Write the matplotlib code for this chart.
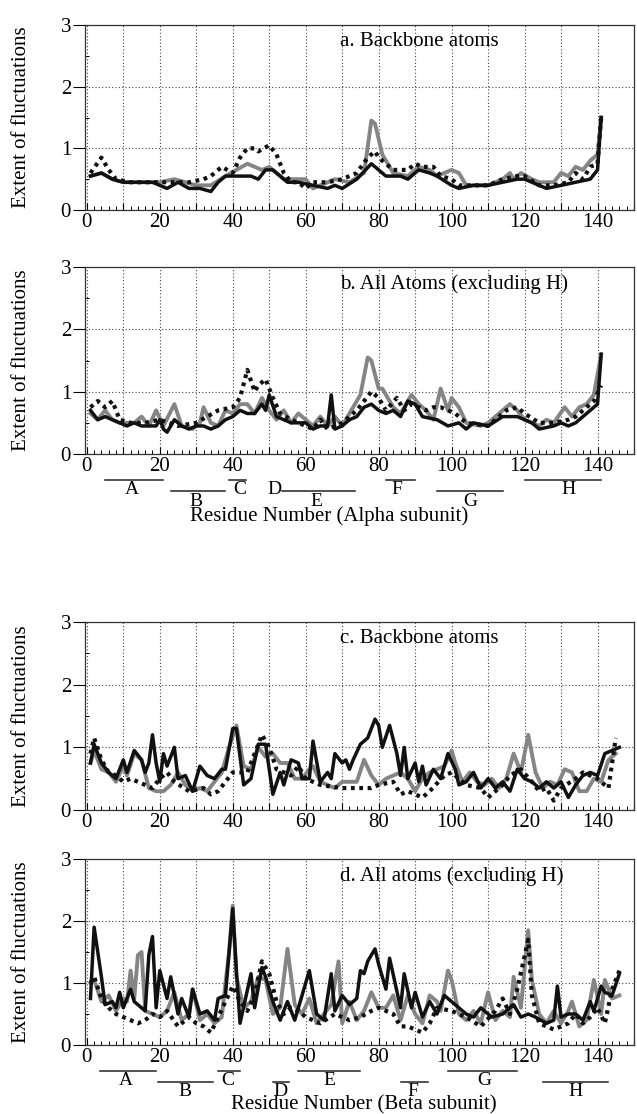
import matplotlib
matplotlib.use("Agg")
import matplotlib.pyplot as plt
from matplotlib.ticker import MultipleLocator, FuncFormatter

plt.rcParams['font.family'] = ['Liberation Serif', 'DejaVu Serif']

# ---- data (residue, fluctuation) ----
# a. alpha, backbone
a_blk_x = [1, 4, 7, 10, 14, 18, 20, 22, 25, 28, 31, 34, 36, 38, 41, 45, 47, 49, 51, 55, 58, 62, 66, 68, 70, 74, 78, 80, 82, 86, 88, 91, 94, 96, 100, 102, 106, 110, 114, 118, 120, 124, 126, 130, 134, 138, 140, 141]
a_blk_y = [0.55, 0.6, 0.5, 0.45, 0.45, 0.45, 0.4, 0.35, 0.45, 0.35, 0.35, 0.3, 0.45, 0.55, 0.55, 0.55, 0.5, 0.65, 0.65, 0.45, 0.45, 0.4, 0.35, 0.4, 0.35, 0.5, 0.75, 0.65, 0.55, 0.55, 0.5, 0.65, 0.6, 0.55, 0.4, 0.35, 0.4, 0.4, 0.45, 0.5, 0.5, 0.4, 0.35, 0.4, 0.45, 0.5, 0.65, 1.5]
a_gry_x = [1, 4, 7, 10, 15, 20, 24, 27, 30, 34, 38, 41, 44, 46, 48, 50, 54, 60, 62, 66, 68, 72, 76, 78, 79, 81, 84, 88, 91, 94, 96, 100, 102, 104, 110, 114, 116, 117, 119, 122, 124, 128, 130, 132, 134, 136, 138, 140, 141]
a_gry_y = [0.55, 0.6, 0.5, 0.45, 0.45, 0.45, 0.5, 0.45, 0.4, 0.4, 0.55, 0.65, 0.75, 0.7, 0.65, 0.7, 0.5, 0.5, 0.35, 0.45, 0.5, 0.45, 0.6, 1.45, 1.4, 0.9, 0.6, 0.55, 0.7, 0.65, 0.55, 0.65, 0.6, 0.4, 0.4, 0.5, 0.6, 0.5, 0.6, 0.5, 0.45, 0.45, 0.6, 0.55, 0.7, 0.65, 0.8, 0.9, 1.5]
a_dot_x = [1, 4, 6, 8, 12, 18, 24, 28, 32, 34, 37, 40, 42, 44, 46, 47, 50, 52, 54, 56, 58, 60, 62, 66, 70, 74, 77, 79, 80, 84, 88, 90, 92, 95, 97, 100, 102, 110, 114, 118, 120, 124, 128, 132, 134, 136, 138, 140, 141]
a_dot_y = [0.6, 0.85, 0.65, 0.5, 0.45, 0.45, 0.45, 0.45, 0.5, 0.55, 0.7, 0.6, 0.85, 1.0, 1.0, 0.95, 1.05, 0.9, 0.6, 0.45, 0.45, 0.35, 0.45, 0.45, 0.5, 0.6, 0.85, 0.95, 0.85, 0.65, 0.65, 0.75, 0.7, 0.7, 0.55, 0.5, 0.4, 0.4, 0.5, 0.55, 0.55, 0.4, 0.4, 0.45, 0.6, 0.5, 0.7, 0.75, 1.5]

# b. alpha, all atoms
b_blk_x = [1, 3, 5, 7, 9, 11, 13, 15, 17, 19, 20, 21, 22, 24, 26, 28, 30, 32, 34, 36, 38, 40, 42, 44, 46, 48, 49, 50, 52, 54, 56, 60, 62, 64, 66, 67, 68, 70, 72, 74, 76, 78, 80, 82, 84, 86, 88, 90, 92, 96, 99, 102, 104, 106, 110, 114, 118, 122, 124, 128, 130, 132, 134, 136, 138, 140, 141]
b_blk_y = [0.7, 0.55, 0.6, 0.55, 0.5, 0.45, 0.5, 0.45, 0.45, 0.45, 0.55, 0.4, 0.35, 0.55, 0.45, 0.4, 0.45, 0.45, 0.4, 0.45, 0.55, 0.6, 0.7, 0.65, 0.65, 0.8, 0.7, 0.95, 0.6, 0.55, 0.5, 0.5, 0.4, 0.45, 0.45, 0.95, 0.4, 0.45, 0.55, 0.6, 0.75, 0.8, 0.7, 0.65, 0.7, 0.6, 0.85, 0.8, 0.6, 0.55, 0.45, 0.5, 0.4, 0.5, 0.45, 0.6, 0.6, 0.5, 0.4, 0.45, 0.5, 0.45, 0.5, 0.6, 0.7, 0.8, 1.6]
b_gry_x = [1, 3, 5, 7, 9, 13, 15, 17, 19, 21, 24, 26, 29, 31, 32, 34, 36, 38, 40, 42, 44, 46, 48, 50, 52, 54, 56, 58, 60, 62, 64, 66, 68, 70, 72, 75, 77, 78, 80, 81, 84, 86, 89, 91, 93, 95, 97, 99, 100, 102, 104, 108, 110, 113, 116, 118, 120, 124, 126, 128, 131, 133, 135, 137, 139, 141]
b_gry_y = [0.65, 0.55, 0.7, 0.55, 0.5, 0.5, 0.6, 0.45, 0.7, 0.45, 0.8, 0.45, 0.4, 0.5, 0.75, 0.5, 0.45, 0.7, 0.65, 0.8, 0.8, 0.65, 0.9, 0.7, 0.55, 0.7, 0.5, 0.65, 0.55, 0.45, 0.6, 0.45, 0.6, 0.45, 0.65, 0.95, 1.55, 1.5, 1.05, 1.05, 0.75, 0.65, 0.95, 0.8, 0.7, 0.55, 1.05, 0.7, 0.9, 0.75, 0.5, 0.45, 0.5, 0.65, 0.8, 0.7, 0.55, 0.45, 0.55, 0.5, 0.75, 0.6, 0.75, 0.8, 0.95, 1.6]
b_dot_x = [1, 3, 5, 7, 9, 12, 16, 20, 25, 30, 33, 36, 40, 42, 44, 46, 47, 49, 51, 53, 56, 58, 60, 62, 64, 66, 70, 74, 76, 78, 80, 82, 85, 87, 89, 91, 93, 95, 97, 99, 101, 104, 110, 113, 115, 118, 120, 124, 128, 132, 134, 137, 139, 141]
b_dot_y = [0.75, 0.85, 0.75, 0.85, 0.55, 0.5, 0.5, 0.55, 0.45, 0.5, 0.6, 0.7, 0.75, 0.9, 1.35, 1.0, 1.1, 1.2, 0.9, 0.65, 0.55, 0.5, 0.45, 0.4, 0.55, 0.4, 0.5, 0.7, 0.85, 1.0, 0.9, 0.7, 0.9, 0.7, 0.8, 0.75, 0.7, 0.75, 0.75, 0.7, 0.65, 0.5, 0.45, 0.6, 0.7, 0.75, 0.65, 0.5, 0.5, 0.55, 0.6, 0.75, 0.85, 1.1]

# c. beta, backbone
c_blk_x = [1, 2, 4, 6, 8, 10, 11, 13, 15, 16, 17, 18, 19, 20, 21, 22, 24, 25, 27, 29, 31, 33, 35, 37, 38, 40, 41, 43, 45, 47, 49, 51, 53, 54, 56, 58, 59, 61, 62, 64, 66, 67, 68, 70, 71, 72, 73, 75, 77, 79, 80, 81, 83, 85, 86, 87, 88, 90, 91, 92, 93, 95, 97, 99, 101, 102, 104, 106, 108, 110, 112, 114, 116, 118, 120, 122, 124, 126, 128, 130, 132, 134, 136, 138, 140, 142, 144, 146]
c_blk_y = [0.75, 1.05, 0.75, 0.6, 0.5, 0.8, 0.6, 0.95, 0.8, 0.6, 0.75, 1.2, 0.75, 0.45, 0.9, 0.7, 1.0, 0.5, 0.55, 0.3, 0.7, 0.55, 0.5, 0.65, 0.65, 1.3, 1.3, 0.4, 0.5, 1.05, 1.05, 0.25, 0.6, 0.4, 0.8, 0.75, 0.5, 0.5, 1.1, 0.45, 0.6, 0.5, 0.9, 0.75, 0.8, 0.65, 0.8, 1.05, 1.15, 1.45, 1.35, 1.0, 1.35, 0.9, 0.55, 1.0, 0.5, 0.75, 0.45, 0.7, 0.4, 0.65, 0.5, 0.9, 0.65, 0.4, 0.45, 0.6, 0.35, 0.5, 0.35, 0.45, 0.3, 0.65, 0.5, 0.45, 0.35, 0.45, 0.35, 0.45, 0.2, 0.4, 0.55, 0.6, 0.55, 0.9, 0.95, 1.0]
c_gry_x = [1, 2, 4, 6, 8, 10, 11, 13, 15, 17, 19, 21, 23, 25, 27, 29, 31, 33, 35, 37, 39, 41, 43, 45, 47, 49, 51, 53, 55, 57, 59, 61, 62, 64, 66, 68, 70, 72, 74, 76, 78, 80, 82, 84, 86, 88, 90, 92, 94, 96, 98, 100, 101, 103, 105, 107, 109, 111, 113, 115, 117, 119, 121, 123, 125, 127, 129, 131, 133, 135, 137, 139, 141, 143, 145]
c_gry_y = [0.75, 0.95, 0.65, 0.6, 0.45, 0.7, 0.55, 0.9, 0.8, 0.35, 0.3, 0.3, 0.4, 0.6, 0.4, 0.3, 0.35, 0.3, 0.45, 0.6, 1.0, 1.35, 0.7, 0.65, 1.0, 0.85, 0.9, 0.75, 0.75, 0.5, 0.5, 0.65, 0.7, 0.45, 0.4, 0.35, 0.45, 0.45, 0.45, 0.8, 0.55, 0.4, 0.5, 0.55, 0.6, 0.5, 0.3, 0.5, 0.6, 0.65, 0.7, 0.95, 0.75, 0.45, 0.6, 0.45, 0.4, 0.5, 0.35, 0.5, 0.9, 0.6, 1.2, 0.6, 0.35, 0.45, 0.4, 0.65, 0.6, 0.3, 0.3, 0.5, 0.45, 0.8, 0.9]
c_dot_x = [1, 2, 4, 6, 8, 10, 12, 14, 16, 18, 20, 22, 24, 28, 32, 34, 36, 40, 44, 48, 50, 52, 56, 58, 60, 64, 70, 74, 78, 80, 84, 86, 88, 90, 92, 94, 98, 100, 104, 108, 110, 114, 116, 119, 122, 124, 126, 128, 130, 134, 136, 138, 140, 142, 143, 145]
c_dot_y = [0.9, 1.15, 0.8, 0.6, 0.55, 0.45, 0.5, 0.45, 0.4, 0.35, 0.5, 0.6, 0.45, 0.3, 0.35, 0.25, 0.3, 0.6, 0.6, 1.2, 1.0, 0.65, 0.55, 0.7, 0.5, 0.4, 0.35, 0.35, 0.35, 0.4, 0.45, 0.25, 0.3, 0.25, 0.2, 0.3, 0.55, 0.6, 0.4, 0.35, 0.2, 0.4, 0.55, 0.65, 0.45, 0.3, 0.35, 0.15, 0.35, 0.5, 0.6, 0.55, 0.5, 0.4, 0.35, 1.15]

# d. beta, all atoms
d_blk_x = [1, 2, 4, 5, 7, 8, 9, 10, 12, 13, 15, 16, 17, 18, 19, 20, 22, 23, 25, 26, 28, 29, 31, 33, 35, 36, 38, 39, 40, 41, 42, 45, 46, 48, 49, 51, 53, 55, 57, 58, 61, 63, 65, 67, 68, 70, 72, 74, 75, 76, 77, 79, 80, 82, 83, 86, 87, 89, 90, 92, 94, 96, 98, 101, 104, 106, 108, 111, 114, 117, 119, 121, 123, 126, 128, 129, 130, 132, 134, 136, 138, 139, 141, 142, 144, 146]
d_blk_y = [0.75, 1.9, 1.1, 0.65, 0.7, 0.6, 0.85, 0.6, 0.9, 0.7, 0.6, 0.55, 1.45, 1.75, 0.6, 1.2, 0.75, 1.1, 0.5, 0.75, 0.45, 0.9, 0.5, 0.55, 0.4, 0.75, 0.8, 1.5, 2.2, 1.2, 0.35, 1.15, 0.6, 1.25, 1.1, 0.7, 0.4, 0.7, 0.4, 0.6, 1.2, 0.5, 0.4, 1.15, 0.55, 0.8, 0.65, 0.75, 1.2, 1.15, 1.35, 1.55, 1.3, 0.9, 1.4, 0.6, 1.15, 0.6, 0.85, 0.45, 0.7, 0.5, 0.8, 0.65, 0.5, 0.45, 0.6, 0.45, 0.5, 0.65, 0.45, 0.5, 0.45, 0.35, 0.4, 0.95, 0.45, 0.5, 0.5, 0.4, 0.7, 0.55, 0.95, 0.85, 0.8, 1.15]
d_gry_x = [1, 2, 4, 6, 8, 10, 11, 12, 13, 14, 15, 16, 18, 20, 22, 24, 26, 28, 29, 31, 33, 35, 37, 38, 39, 40, 41, 43, 45, 47, 49, 51, 53, 55, 57, 59, 61, 63, 65, 67, 69, 70, 72, 74, 76, 78, 80, 82, 84, 86, 88, 90, 92, 94, 96, 97, 99, 100, 102, 104, 106, 108, 110, 112, 114, 116, 117, 119, 121, 122, 124, 126, 128, 130, 132, 133, 135, 137, 139, 141, 142, 144, 146]
d_gry_y = [1.0, 1.05, 0.7, 0.8, 0.55, 0.75, 0.7, 1.2, 0.75, 1.45, 1.5, 0.55, 0.5, 0.45, 0.55, 0.85, 0.4, 0.5, 0.9, 0.4, 0.5, 0.35, 0.45, 1.0, 1.5, 2.25, 1.1, 0.6, 0.7, 1.1, 1.05, 0.5, 0.6, 1.55, 0.65, 0.5, 0.75, 0.35, 0.5, 0.65, 1.35, 0.35, 0.7, 0.4, 0.55, 0.85, 0.6, 0.6, 0.8, 0.4, 0.8, 0.5, 0.35, 0.8, 0.7, 0.55, 1.2, 1.05, 0.5, 0.4, 0.55, 0.35, 0.85, 0.4, 0.55, 0.45, 1.1, 0.6, 1.85, 1.05, 0.5, 0.35, 0.55, 0.35, 0.55, 0.7, 0.3, 0.4, 1.05, 0.5, 1.05, 0.75, 0.8]
d_dot_x = [1, 2, 4, 6, 8, 10, 12, 14, 16, 18, 20, 22, 25, 28, 30, 32, 34, 36, 38, 40, 42, 44, 46, 48, 50, 52, 54, 56, 58, 60, 64, 68, 72, 75, 78, 80, 84, 86, 88, 90, 92, 94, 96, 100, 104, 108, 112, 114, 116, 118, 121, 122, 124, 126, 128, 132, 134, 136, 138, 140, 142, 144, 146]
d_dot_y = [1.0, 1.1, 0.75, 0.6, 0.5, 0.45, 0.4, 0.35, 0.4, 0.5, 0.45, 0.55, 0.3, 0.45, 0.35, 0.3, 0.2, 0.45, 0.7, 0.95, 0.7, 0.55, 0.8, 1.35, 1.15, 0.7, 0.5, 0.6, 0.55, 0.45, 0.35, 0.5, 0.4, 0.45, 0.55, 0.6, 0.5, 0.3, 0.3, 0.25, 0.2, 0.35, 0.6, 0.55, 0.45, 0.3, 0.55, 0.75, 0.5, 0.9, 1.7, 0.8, 0.35, 0.3, 0.25, 0.35, 0.5, 0.35, 0.45, 0.6, 0.35, 0.9, 1.2]

# helix segments: name, start, end, row (0 = upper, 1 = lower)
alpha_helix_names = ['A', 'B', 'C', 'D', 'E', 'F', 'G', 'H']
alpha_helix_start = [5, 23, 39, None, 53.5, 82, 96, 120]
alpha_helix_end = [21, 38, 43.5, None, 73.5, 90, 114, 141]
alpha_helix_row = [0, 1, 0, 0, 1, 0, 1, 0]
alpha_label_x = [12.3, 30, 42, 51.5, 63, 85, 105, 132]

beta_helix_names = ['A', 'B', 'C', 'D', 'E', 'F', 'G', 'H']
beta_helix_start = [3.5, 19.5, 36, 51, 58, 86, 99, 125]
beta_helix_end = [19, 34.5, 42, 55.5, 75, 93.5, 118, 143]
beta_helix_row = [0, 1, 0, 1, 0, 1, 0, 1]
beta_label_x = [10.7, 26.8, 38.5, 53, 66.4, 89.5, 109, 134]

panel_titles = ['a. Backbone atoms', 'b. All Atoms (excluding H)',
                'c. Backbone atoms', 'd. All atoms (excluding H)']

W, H = 637, 1114
fig = plt.figure(figsize=(W / 100, H / 100), dpi=100)

# panel boxes in pixels: top, bottom
boxes = [(25, 210), (267, 454), (622, 810), (859, 1045)]
left_px, right_px = 85, 634

series = [
    (a_blk_x, a_blk_y, a_gry_x, a_gry_y, a_dot_x, a_dot_y),
    (b_blk_x, b_blk_y, b_gry_x, b_gry_y, b_dot_x, b_dot_y),
    (c_blk_x, c_blk_y, c_gry_x, c_gry_y, c_dot_x, c_dot_y),
    (d_blk_x, d_blk_y, d_gry_x, d_gry_y, d_dot_x, d_dot_y),
]

axes = []
for i, (top, bot) in enumerate(boxes):
    ax = fig.add_axes([left_px / W, 1 - bot / H, (right_px - left_px) / W, (bot - top) / H])
    bx, by, gx, gy, dx, dy = series[i]
    ax.plot(gx, gy, color='#858585', lw=2.8, zorder=3)
    ax.plot(bx, by, color='#111111', lw=2.5, zorder=4)
    ax.plot(dx, dy, color='#111111', lw=3.0, linestyle=(0, (0.9, 1.1)), zorder=5)

    ax.set_xlim(-0.5, 150)
    ax.set_ylim(0, 3)
    ax.xaxis.set_major_locator(MultipleLocator(10))
    ax.xaxis.set_minor_locator(MultipleLocator(2))
    ax.xaxis.set_major_formatter(FuncFormatter(lambda v, p: '%d' % v if int(round(v)) % 20 == 0 else ''))
    ax.yaxis.set_major_locator(MultipleLocator(1))
    ax.yaxis.set_minor_locator(MultipleLocator(0.5))
    ax.tick_params(axis='x', which='major', direction='in', length=5, width=0.8, labelsize=15, pad=2)
    ax.tick_params(axis='x', which='minor', direction='in', length=3, width=0.7)
    ax.tick_params(axis='y', which='major', direction='out', length=9, width=0.8, labelsize=15, pad=1)
    ax.tick_params(axis='y', which='minor', direction='in', length=3, width=0.7)
    ax.grid(True, which='major', linestyle=(0, (1, 2)), color='#444444', lw=0.8)
    for sp in ax.spines.values():
        sp.set_linewidth(0.9)
        sp.set_color('#333333')
    ax.text(69.5, 2.73, panel_titles[i], fontsize=15, va='center', ha='left', zorder=6)
    fig.text(22 / W, 1 - (top + bot) / 2 / H, 'Extent of fluctuations', rotation=90,
             ha='center', va='center', fontsize=15)
    axes.append(ax)


def draw_helices(ax, names, starts, ends, rows, label_x):
    bar_y = [-0.42, -0.60]
    for n, s, e, r, lx in zip(names, starts, ends, rows, label_x):
        if s is not None:
            ax.plot([s, e], [bar_y[r], bar_y[r]], color='#222222', lw=1.1, clip_on=False)
        ax.text(lx, bar_y[r] - 0.02, n, ha='center', va='top', fontsize=14, clip_on=False)


draw_helices(axes[1], alpha_helix_names, alpha_helix_start, alpha_helix_end, alpha_helix_row, alpha_label_x)
draw_helices(axes[3], beta_helix_names, beta_helix_start, beta_helix_end, beta_helix_row, beta_label_x)

fig.text(329 / W, 1 - 516 / H, 'Residue Number (Alpha subunit)', ha='center', va='center', fontsize=15)
fig.text(364 / W, 1 - 1105 / H, 'Residue Number (Beta subunit)', ha='center', va='center', fontsize=15)

fig.savefig('out.png', dpi=100)
